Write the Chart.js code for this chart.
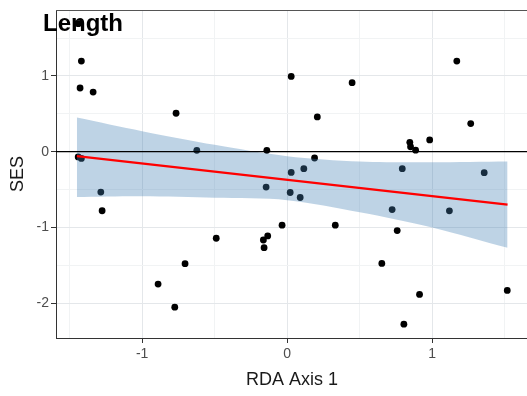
<!DOCTYPE html>
<html>
<head>
<meta charset="utf-8">
<script src="https://cdn.jsdelivr.net/npm/chart.js@4/dist/chart.umd.min.js"></script>
<style>
  html, body { margin: 0; padding: 0; background: #ffffff; overflow: hidden; }
  #wrap { position: relative; width: 532px; height: 396px; }
</style>
</head>
<body>
<div id="wrap"><canvas id="c"></canvas></div>
<script>
// ---- data ----
const pointX = [-1.44, -1.419, -1.428, -1.338, -0.766, -0.623, -1.441, -1.419, -1.285, -0.14, -0.145,
                -1.276, -0.489, -0.704, -0.89, -0.775, -0.164, -0.134, -0.159,
                -0.035, 0.332, 0.759, 0.653, 0.913, 0.805, 1.518, 0.021, 0.09, 0.724, 1.119,
                0.028, 0.448, 0.208, 1.17, 1.266, 0.983, 0.846, 0.851, 0.886, 0.189, 0.028, 0.115, 0.794, 1.359];
const pointY = [1.69, 1.196, 0.84, 0.786, 0.507, 0.018, -0.07, -0.089, -0.534, 0.017, -0.468,
                -0.78, -1.143, -1.479, -1.748, -2.053, -1.166, -1.113, -1.267,
                -0.971, -0.971, -1.042, -1.475, -1.885, -2.278, -1.832, -0.539, -0.605, -0.764, -0.781,
                0.993, 0.91, 0.459, 1.196, 0.371, 0.155, 0.123, 0.065, 0.02, -0.084, -0.274, -0.225, -0.225, -0.278];

const fitX = [-1.45, 1.52];
const fitY = [-0.06, -0.70];

const bandX = [-1.45, -1.0, -0.5, 0.0, 0.5, 1.0, 1.52];
const bandUpper = [0.45, 0.27, 0.09, -0.06, -0.13, -0.14, -0.13];
const bandLower = [-0.60, -0.59, -0.61, -0.64, -0.80, -1.00, -1.27];

const refLineX = [-1.594, 1.661];
const refLineY = [0, 0];

const xTicks = [-1.5, -1, -0.5, 0, 0.5, 1, 1.5];
const yTicks = [-2, -1.5, -1, -0.5, 0, 0.5, 1, 1.5];
const xRange = [-1.594, 1.661];
const yRange = [-2.46, 1.87];

const titleText = 'Length';
const xTitle = 'RDA Axis 1';
const yTitle = 'SES';

// ---- build ----
const FONT = '"Liberation Sans", Arial, sans-serif';
const zip = (xs, ys) => xs.map((x, i) => ({ x: x, y: ys[i] }));
const isMajor = v => Number.isInteger(v);

const titlePlugin = {
  id: 'panelTitle',
  afterDraw(chart) {
    const { ctx, chartArea } = chart;
    ctx.save();
    ctx.strokeStyle = '#555555';
    ctx.lineWidth = 1;
    ctx.beginPath();
    ctx.moveTo(chartArea.left, chartArea.top + 0.5);
    ctx.lineTo(chartArea.right, chartArea.top + 0.5);
    ctx.stroke();
    ctx.fillStyle = '#000000';
    ctx.font = 'bold 24px ' + FONT;
    ctx.textBaseline = 'alphabetic';
    ctx.textAlign = 'left';
    ctx.fillText(titleText, 43, 30.5);
    ctx.restore();
  }
};

new Chart(document.getElementById('c'), {
  type: 'scatter',
  data: {
    datasets: [
      {
        label: 'points',
        data: zip(pointX, pointY),
        backgroundColor: '#000000',
        borderColor: '#000000',
        pointRadius: 3.4,
        pointBorderWidth: 0,
        order: 5
      },
      {
        label: 'upper',
        type: 'line',
        data: zip(bandX, bandUpper),
        borderWidth: 0,
        borderColor: 'rgba(0,0,0,0)',
        pointRadius: 0,
        fill: '+1',
        backgroundColor: 'rgba(70,130,180,0.35)',
        tension: 0.3,
        order: 4
      },
      {
        label: 'lower',
        type: 'line',
        data: zip(bandX, bandLower),
        borderWidth: 0,
        borderColor: 'rgba(0,0,0,0)',
        pointRadius: 0,
        fill: false,
        tension: 0.3,
        order: 4
      },
      {
        label: 'zero',
        type: 'line',
        data: zip(refLineX, refLineY),
        borderColor: '#000000',
        borderWidth: 1.2,
        pointRadius: 0,
        fill: false,
        order: 2
      },
      {
        label: 'fit',
        type: 'line',
        data: zip(fitX, fitY),
        borderColor: '#ff0000',
        borderWidth: 2.2,
        pointRadius: 0,
        fill: false,
        order: 1
      }
    ]
  },
  options: {
    responsive: true,
    maintainAspectRatio: false,
    animation: false,
    devicePixelRatio: 1,
    layout: { padding: { left: 0, right: 0, top: 10, bottom: 0 } },
    plugins: {
      legend: { display: false },
      tooltip: { enabled: false },
      title: { display: false }
    },
    scales: {
      x: {
        type: 'linear',
        min: xRange[0],
        max: xRange[1],
        afterBuildTicks: axis => { axis.ticks = xTicks.map(v => ({ value: v })); },
        afterFit: scale => {
          scale.height = 58;
          scale.paddingLeft = 0; scale.paddingRight = 0;
          scale.paddingTop = 0; scale.paddingBottom = 0;
        },
        ticks: {
          includeBounds: false,
          autoSkip: false,
          maxRotation: 0,
          padding: 3,
          color: '#4d4d4d',
          font: { family: FONT, size: 14 },
          callback: v => isMajor(v) ? String(v) : ''
        },
        grid: {
          drawTicks: true,
          tickLength: 5,
          color: ctx => (ctx.tick && isMajor(ctx.tick.value)) ? '#e4e7ea' : '#f1f3f4',
          lineWidth: 1,
          tickColor: ctx => (ctx.tick && isMajor(ctx.tick.value)) ? '#333333' : 'rgba(0,0,0,0)'
        },
        border: { display: true, color: '#333333', width: 1 },
        title: {
          display: true,
          text: xTitle,
          color: '#1a1a1a',
          font: { family: FONT, size: 18 },
          padding: { top: 0, bottom: 5 }
        }
      },
      y: {
        type: 'linear',
        min: yRange[0],
        max: yRange[1],
        afterBuildTicks: axis => { axis.ticks = yTicks.map(v => ({ value: v })); },
        afterFit: scale => {
          scale.width = 56;
          scale.paddingLeft = 0; scale.paddingRight = 0;
          scale.paddingTop = 0; scale.paddingBottom = 0;
        },
        ticks: {
          includeBounds: false,
          autoSkip: false,
          padding: 2,
          color: '#4d4d4d',
          font: { family: FONT, size: 14 },
          callback: v => isMajor(v) ? String(v) : ''
        },
        grid: {
          drawTicks: true,
          tickLength: 5,
          color: ctx => (ctx.tick && isMajor(ctx.tick.value)) ? '#e4e7ea' : '#f1f3f4',
          lineWidth: 1,
          tickColor: ctx => (ctx.tick && isMajor(ctx.tick.value)) ? '#333333' : 'rgba(0,0,0,0)'
        },
        border: { display: true, color: '#333333', width: 1 },
        title: {
          display: true,
          text: yTitle,
          color: '#1a1a1a',
          font: { family: FONT, size: 18 },
          padding: { top: 7, bottom: 0 }
        }
      }
    }
  },
  plugins: [titlePlugin]
});
</script>
</body>
</html>
